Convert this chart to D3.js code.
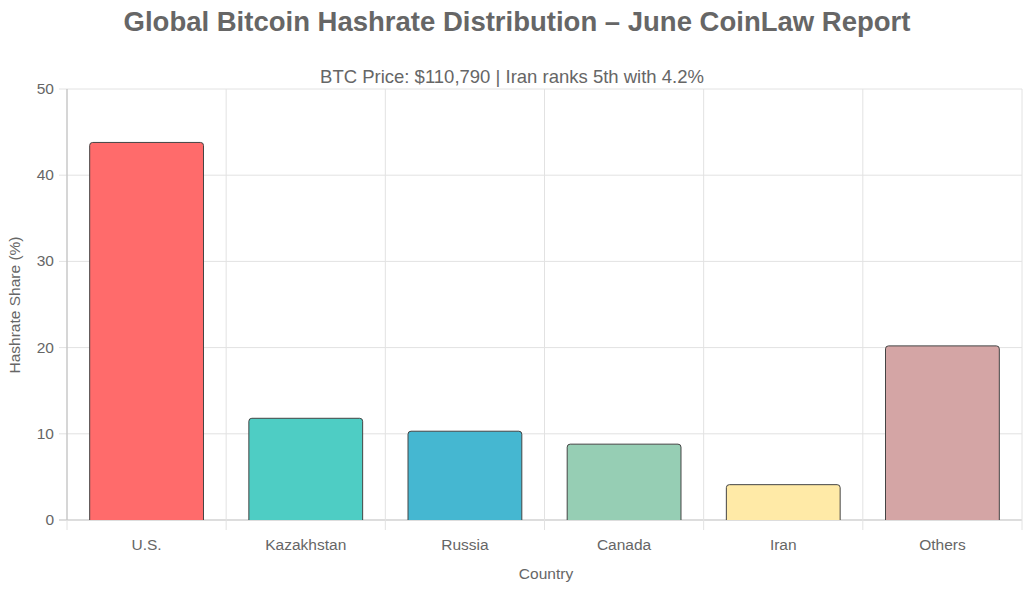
<!DOCTYPE html><html><head><meta charset="utf-8">
<script src="https://cdn.jsdelivr.net/npm/d3@7"></script>
<style>body{margin:0;background:#fff}text{font-family:"Helvetica Neue",Arial,"Liberation Sans",sans-serif}</style>
</head><body><svg id="c" width="1024" height="589"></svg>
<script>
const categories=["U.S.","Kazakhstan","Russia","Canada","Iran","Others"];
const values=[43.8,11.8,10.3,8.8,4.1,20.2];
const colors=["#FF6B6B","#4ECDC4","#45B7D1","#96CEB4","#FFEAA7","#D4A5A5"];
const yTicks=[0,10,20,30,40,50];
const svg=d3.select("#c");
const L=67,R=1022,T=89,B=520;
const x=d3.scaleBand().domain(categories).range([L,R]).paddingInner(0).paddingOuter(0);
const y=d3.scaleLinear().domain([0,50]).range([B,T]);
const g=svg.append("g");
yTicks.forEach(t=>g.append("line").attr("x1",L-8).attr("x2",R).attr("y1",y(t)).attr("y2",y(t)).attr("stroke",t===0?"#bbb":"#e2e2e2"));
const bounds=categories.map(c=>x(c)).concat([R]);
bounds.forEach(b=>g.append("line").attr("x1",b).attr("x2",b).attr("y1",T).attr("y2",B+10).attr("stroke","#e2e2e2"));
g.append("line").attr("x1",L).attr("x2",L).attr("y1",T).attr("y2",B).attr("stroke","#bbb");
yTicks.forEach(t=>g.append("text").attr("x",L-13).attr("y",y(t)+5).attr("text-anchor","end").attr("font-size",15.5).attr("fill","#666").text(t));
const bw=x.bandwidth()*0.715;
categories.forEach((c,i)=>{
 const x0=x(c)+(x.bandwidth()-bw)/2, x1=x0+bw, yt=y(values[i]), r=3;
 g.append("path").attr("d",`M${x0},${B}V${yt+r}Q${x0},${yt} ${x0+r},${yt}H${x1-r}Q${x1},${yt} ${x1},${yt+r}V${B}`)
  .attr("fill",colors[i]).attr("stroke","#444").attr("stroke-width",1);
 g.append("text").attr("x",x(c)+x.bandwidth()/2).attr("y",550).attr("text-anchor","middle").attr("font-size",15.5).attr("fill","#666").text(c);
});
svg.append("text").attr("x",517).attr("y",31).attr("text-anchor","middle").attr("font-size",27.5).attr("font-weight","bold").attr("fill","#666").text("Global Bitcoin Hashrate Distribution – June CoinLaw Report");
svg.append("text").attr("x",512).attr("y",83).attr("text-anchor","middle").attr("font-size",18.5).attr("fill","#666").text("BTC Price: $110,790 | Iran ranks 5th with 4.2%");
svg.append("text").attr("x",546).attr("y",579).attr("text-anchor","middle").attr("font-size",15.5).attr("fill","#666").text("Country");
svg.append("text").attr("transform","translate(20,305) rotate(-90)").attr("text-anchor","middle").attr("font-size",15.5).attr("fill","#666").text("Hashrate Share (%)");
</script></body></html>
